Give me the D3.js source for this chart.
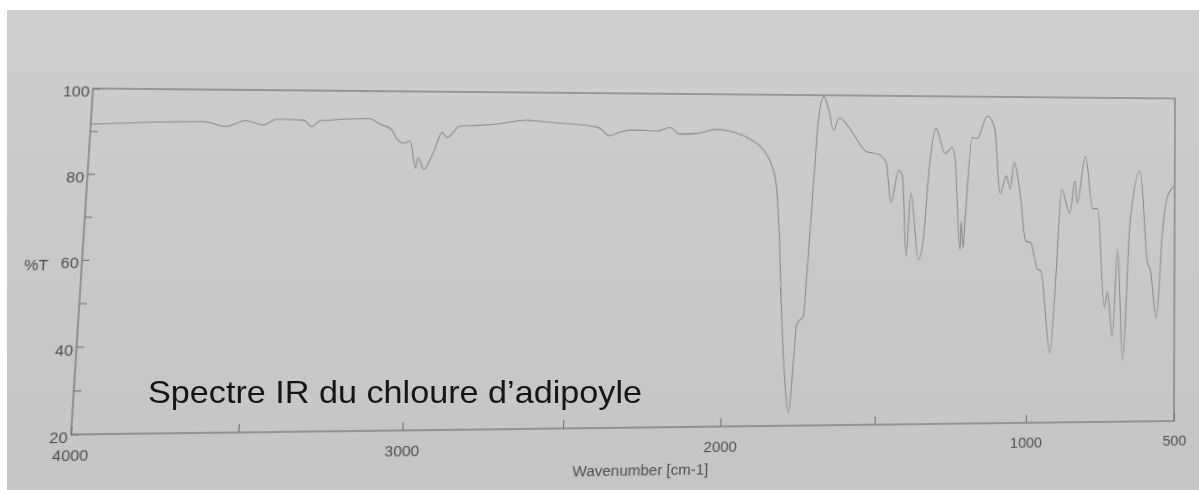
<!DOCTYPE html>
<html>
<head>
<meta charset="utf-8">
<script src="https://cdn.jsdelivr.net/npm/d3@7"></script>
<style>
  body { margin: 0; width: 1199px; height: 490px; overflow: hidden; position: relative; background: #fff; }
  .paper { position: absolute; left: 7px; top: 10px; right: 0; bottom: 0;
           background: linear-gradient(180deg, #cdcecf 0%, #c8c9cb 45%, #c4c5c7 100%); }
  svg { position: absolute; left: 0; top: 0; }
  #chart { transform-origin: 0 0; }
  .axis text { font-family: "Liberation Sans", Arial, sans-serif; font-size: 15px; fill: #4e4e4e; }
  .axis line { stroke: #747474; stroke-width: 1.1; }
</style>
</head>
<body>
<div class="paper"></div>
<svg id="chart" width="1199" height="490"></svg>
<svg id="overlay" width="1199" height="490"></svg>
<script>
// spectrum (wavenumber in cm-1, transmittance in %)
const wavenumbers = [4000, 3660, 3590, 3530, 3475, 3435, 3350, 3325, 3300, 3150, 3110, 3078, 3055, 3037, 3016,
    2996, 2990, 2970, 2944, 2917, 2902, 2862, 2800, 2738, 2654, 2572, 2423, 2384, 2358, 2316, 2230, 2190, 2160,
    2102, 2040, 1997, 1930, 1884, 1856, 1838, 1823, 1812, 1797, 1781, 1769, 1762, 1740, 1733, 1717, 1705, 1690,
    1673, 1655, 1637, 1603, 1545, 1503, 1478, 1460, 1437, 1424, 1406, 1395, 1365, 1350, 1333, 1314, 1282, 1259,
    1248, 1227, 1225, 1217, 1212, 1192, 1175, 1142, 1117, 1095, 1075, 1061, 1049, 1027, 1007, 990, 966, 955,
    922, 903, 887, 859, 842, 834, 807, 781, 764, 739, 729, 711, 695, 676, 653, 619, 593, 583, 562, 541, 524, 500];
const transmittance = [91.6, 92.4, 91.3, 92.7, 91.7, 93.1, 92.9, 91.4, 92.8, 93.4, 92.0, 90.9, 88.3, 87.6, 88.1,
    81.6, 84.2, 81.4, 85.1, 90.2, 89.0, 91.8, 92.0, 92.4, 93.3, 92.8, 91.7, 89.7, 90.4, 91.1, 90.9, 91.8, 90.2,
    90.4, 91.4, 91.0, 89.1, 86.4, 82.7, 77.1, 63.0, 47.5, 31.7, 23.0, 35.7, 44.2, 46.3, 55.3, 78.8, 94.6, 99.6,
    96.6, 91.4, 94.5, 92.0, 86.2, 85.5, 83.4, 73.7, 81.6, 80.4, 60.6, 76.1, 59.7, 65.0, 83.4, 92.0, 85.8, 87.3,
    84.2, 62.1, 69.1, 62.7, 69.1, 89.8, 89.6, 95.2, 92.4, 76.0, 80.4, 77.2, 83.8, 75.5, 64.3, 63.9, 57.3, 57.0,
    36.9, 56.9, 77.2, 71.1, 79.2, 73.6, 85.4, 72.3, 72.3, 48.0, 51.7, 40.7, 62.3, 34.9, 69.0, 81.8, 59.0, 57.2,
    45.2, 67.2, 75.5, 78.1];

const xTicks = [4000, 3500, 3000, 2500, 2000, 1500, 1000, 500];
const xLabels = [4000, 3000, 2000, 1000, 500];
const yTicks = [20, 30, 40, 50, 60, 70, 80, 90, 100];
const yLabels = [20, 40, 60, 80, 100];
const titleText = "Spectre IR du chloure d\u2019adipoyle";
const xTitle = "Wavenumber [cm-1]";
const yTitle = "%T";

const plot = {left: 82, top: 93, right: 1174, bottom: 427};
const width = plot.right - plot.left,
      height = plot.bottom - plot.top;

const svg = d3.select("#chart");
const g = svg.append("g")
    .attr("transform", "translate(" + plot.left + "," + plot.top + ")");

const x = d3.scaleLinear().domain([4000, 500]).range([0, width]);
const y = d3.scaleLinear().domain([20, 100]).range([height, 0]);

g.append("g")
    .attr("class", "x axis")
    .attr("transform", "translate(0," + height + ")")
    .call(d3.axisBottom(x)
        .tickValues(xTicks)
        .tickSizeInner(-8)
        .tickSizeOuter(0)
        .tickPadding(14)
        .tickFormat(d => xLabels.includes(d) ? d : ""))
    .call(a => a.select(".domain").remove());

g.append("g")
    .attr("class", "y axis")
    .call(d3.axisLeft(y)
        .tickValues(yTicks)
        .tickSizeInner(-7)
        .tickSizeOuter(0)
        .tickPadding(3)
        .tickFormat(d => yLabels.includes(d) ? d : ""))
    .call(a => a.select(".domain").remove())
    .selectAll(".tick text")
    .attr("dy", "0.5em");

g.append("rect")
    .attr("width", width)
    .attr("height", height)
    .attr("fill", "none")
    .attr("stroke", "#727272")
    .attr("stroke-width", 1.2);

const line = d3.line()
    .x((d, i) => x(wavenumbers[i]))
    .y(d => y(d))
    .curve(d3.curveMonotoneX);

g.append("path")
    .datum(transmittance)
    .attr("d", line)
    .attr("fill", "none")
    .attr("stroke", "#8a8a8a")
    .attr("stroke-width", 1.1);

g.append("text")
    .attr("x", width / 2)
    .attr("y", height + 47)
    .attr("text-anchor", "middle")
    .style("font-family", "'Liberation Sans', Arial, sans-serif")
    .style("font-size", "15px")
    .style("fill", "#4e4e4e")
    .text(xTitle);

g.append("text")
    .attr("x", -31)
    .attr("y", y(60) + 10)
    .attr("text-anchor", "end")
    .style("font-family", "'Liberation Sans', Arial, sans-serif")
    .style("font-size", "15px")
    .style("fill", "#4e4e4e")
    .text(yTitle);

// the sheet was photographed at an angle: map the flat plot frame onto the photographed frame
const quad = [[93, 88.5], [1175, 98.5], [1174, 421], [71, 434.5]]; // TL, TR, BR, BL

const squareToQuad = q => {
    const [[x0, y0], [x1, y1], [x2, y2], [x3, y3]] = q;
    const dx1 = x1 - x2, dx2 = x3 - x2, dx3 = x0 - x1 + x2 - x3,
          dy1 = y1 - y2, dy2 = y3 - y2, dy3 = y0 - y1 + y2 - y3;
    const det = dx1 * dy2 - dx2 * dy1;
    const gg = (dx3 * dy2 - dx2 * dy3) / det,
          hh = (dx1 * dy3 - dx3 * dy1) / det;
    return [[x1 - x0 + gg * x1, x3 - x0 + hh * x3, x0],
            [y1 - y0 + gg * y1, y3 - y0 + hh * y3, y0],
            [gg, hh, 1]];
};

const Hs = squareToQuad(quad);
const H = Hs.map(r => [r[0] / width, r[1] / height,
                       r[2] - r[0] * plot.left / width - r[1] * plot.top / height]);

svg.style("transform", "matrix3d(" + [
    H[0][0], H[1][0], 0, H[2][0],
    H[0][1], H[1][1], 0, H[2][1],
    0, 0, 1, 0,
    H[0][2], H[1][2], 0, H[2][2]].join(",") + ")");

d3.select("#overlay").append("text")
    .attr("x", 148)
    .attr("y", 403)
    .attr("textLength", 494)
    .attr("lengthAdjust", "spacingAndGlyphs")
    .style("font-family", "'Liberation Sans', Arial, sans-serif")
    .style("font-size", "32px")
    .style("fill", "#151515")
    .text(titleText);
</script>
</body>
</html>
